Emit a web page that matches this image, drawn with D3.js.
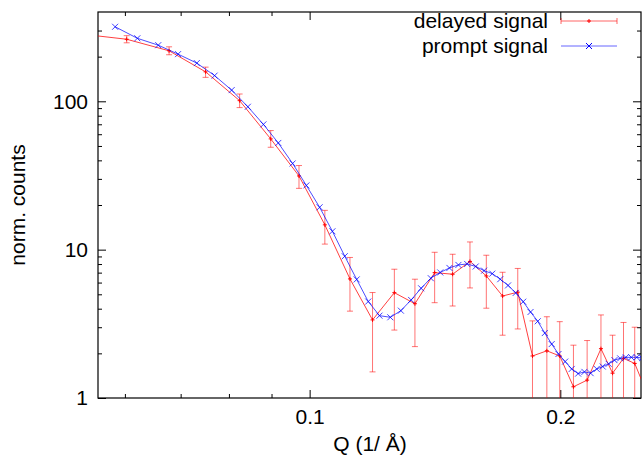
<!DOCTYPE html>
<html><head><meta charset="utf-8">
<script src="https://cdn.jsdelivr.net/npm/d3@7"></script>
<style>body{margin:0;background:#fff}svg{display:block}text{font-family:"Liberation Sans",Arial,sans-serif;fill:#000}</style>
</head><body><svg id="c" width="642" height="462"></svg>
<script>
// ---- data ----
const delayedQ = [0.0529,0.0603,0.0678,0.0750,0.0824,0.0898,0.0971,0.1043,0.1118,0.1190,0.1264,0.1338,0.1413,0.1485,0.1558,0.1630,0.1705,0.1778,0.1852,0.1927,0.1997,0.2074,0.2154,0.2238,0.2311,0.2382,0.2457,0.2531];
const delayedCounts = [285,262,219,158,101,55.8,31.4,14.7,6.35,3.36,5.13,4.32,7.0,6.83,8.33,6.65,4.87,5.17,1.92,2.08,1.92,1.19,1.32,2.15,1.47,1.85,1.71,1.14];
const delayedHigh = [300,277,233,170,112,63.5,36.9,18.4,8.86,5.14,7.38,6.32,9.6,9.31,11.27,9.17,7.04,7.47,3.31,3.53,3.27,2.27,2.44,3.63,2.65,3.23,3.0,2.6];
const delayedLow = [270,248,206,145,90.7,49.0,25.9,10.9,3.85,1.50,2.87,2.22,4.39,4.17,5.52,4.03,2.65,2.92,0.5,0.6,0.5,0.1,0.2,0.6,0.3,0.5,0.4,0.3];
const promptQ = [0.0584,0.0621,0.0658,0.0695,0.0732,0.0769,0.0806,0.0843,0.0880,0.0917,0.0954,0.0991,0.1028,0.1065,0.1102,0.1139,0.1176,0.1213,0.1250,0.1287,0.1324,0.1361,0.1398,0.1435,0.1472,0.1509,0.1546,0.1583,0.1620,0.1657,0.1694,0.1731,0.1768,0.1805,0.1842,0.1879,0.1916,0.1953,0.1990,0.2027,0.2064,0.2101,0.2138,0.2175,0.2212,0.2249,0.2286,0.2323,0.2360,0.2397,0.2434,0.2471,0.2508];
const promptCounts = [318,266,239,208,181,149,119,91.9,69.9,52.4,38.1,27.1,19.3,13.3,9.03,6.30,4.47,3.59,3.50,3.88,4.58,5.49,6.42,7.02,7.53,7.89,8.01,7.70,7.22,6.89,6.32,5.74,5.11,4.46,3.80,3.29,2.74,2.31,1.98,1.76,1.57,1.46,1.50,1.47,1.57,1.63,1.70,1.80,1.85,1.88,1.88,1.88,1.86];
const xDomain = [0.0557, 0.25];
const yDomain = [1, 400];
const xMajorTicks = [0.1, 0.2];
const xTickLabels = ["0.1", "0.2"];
const xMinorTicks = [0.06, 0.07, 0.08, 0.09];
const yMajorTicks = [1, 10, 100];
const yTickLabels = ["1", "10", "100"];
const yMinorTicks = [2,3,4,5,6,7,8,9,20,30,40,50,60,70,80,90,200,300];
const seriesNames = ["delayed signal", "prompt signal"];
const xTitle = "Q (1/ Å)";
const yTitle = "norm. counts";

// ---- layout ----
const L = 98, R = 641, T = 12, B = 398;
const FS = 21;
const RED = "#ff0000", BLUE = "#0000ff";
const svg = d3.select("#c");
const x = d3.scaleLog().domain(xDomain).range([L, R]);
const y = d3.scaleLog().domain(yDomain).range([B, T]);

svg.append("defs").append("clipPath").attr("id","clip")
  .append("rect").attr("x",L).attr("y",T).attr("width",R-L).attr("height",B-T);

function styleAxis(g){ g.select(".domain").remove(); g.selectAll("line").attr("stroke","#000").attr("stroke-width",1); }
const ff = "Liberation Sans, Arial, sans-serif";
// bottom
svg.append("g").attr("transform",`translate(0,${B})`)
  .call(d3.axisBottom(x).tickValues(xMajorTicks).tickFormat((d,i)=>xTickLabels[i]).tickSizeInner(-8).tickSizeOuter(0).tickPadding(11))
  .call(styleAxis).call(g=>g.selectAll("text").attr("font-size",FS).attr("font-family",ff));
svg.append("g").attr("transform",`translate(0,${B})`)
  .call(d3.axisBottom(x).tickValues(xMinorTicks).tickFormat("").tickSizeInner(-4).tickSizeOuter(0)).call(styleAxis);
// top
svg.append("g").attr("transform",`translate(0,${T})`)
  .call(d3.axisTop(x).tickValues(xMajorTicks).tickFormat("").tickSizeInner(-8).tickSizeOuter(0)).call(styleAxis);
svg.append("g").attr("transform",`translate(0,${T})`)
  .call(d3.axisTop(x).tickValues(xMinorTicks).tickFormat("").tickSizeInner(-4).tickSizeOuter(0)).call(styleAxis);
// left
svg.append("g").attr("transform",`translate(${L},0)`)
  .call(d3.axisLeft(y).tickValues(yMajorTicks).tickFormat((d,i)=>yTickLabels[i]).tickSizeInner(-8).tickSizeOuter(0).tickPadding(10))
  .call(styleAxis).call(g=>g.selectAll("text").attr("font-size",FS).attr("font-family",ff));
svg.append("g").attr("transform",`translate(${L},0)`)
  .call(d3.axisLeft(y).tickValues(yMinorTicks).tickFormat("").tickSizeInner(-4).tickSizeOuter(0)).call(styleAxis);
// right
svg.append("g").attr("transform",`translate(${R},0)`)
  .call(d3.axisRight(y).tickValues(yMajorTicks).tickFormat("").tickSizeInner(-8).tickSizeOuter(0)).call(styleAxis);
svg.append("g").attr("transform",`translate(${R},0)`)
  .call(d3.axisRight(y).tickValues(yMinorTicks).tickFormat("").tickSizeInner(-4).tickSizeOuter(0)).call(styleAxis);

// border
svg.append("rect").attr("x",L).attr("y",T).attr("width",R-L).attr("height",B-T)
  .attr("fill","none").attr("stroke","#000").attr("stroke-width",1.2);

// titles
svg.append("text").attr("x",370).attr("y",451).attr("text-anchor","middle").attr("font-size",FS).text(xTitle);
svg.append("text").attr("transform",`translate(25,${(T+B)/2}) rotate(-90)`).attr("text-anchor","middle").attr("font-size",FS).text(yTitle);

// data
const plot = svg.append("g").attr("clip-path","url(#clip)");
const delayed = delayedQ.map((q,i)=>({q, v:delayedCounts[i], lo:delayedLow[i], hi:delayedHigh[i]}));
const prompt = promptQ.map((q,i)=>({q, v:promptCounts[i]}));
const line = d3.line().x(d=>x(d.q)).y(d=>y(d.v));

// error bars
const eb = plot.append("g").attr("stroke",RED).attr("stroke-opacity",0.55).attr("stroke-width",1);
delayed.forEach(d=>{
  const cx = x(d.q), y1 = y(Math.max(d.lo,0.05)), y2 = y(d.hi);
  eb.append("line").attr("x1",cx).attr("x2",cx).attr("y1",y1).attr("y2",y2);
  eb.append("line").attr("x1",cx-3).attr("x2",cx+3).attr("y1",y2).attr("y2",y2);
  eb.append("line").attr("x1",cx-3).attr("x2",cx+3).attr("y1",y1).attr("y2",y1);
});
plot.append("path").datum(delayed).attr("d",line).attr("fill","none").attr("stroke",RED).attr("stroke-opacity",0.75).attr("stroke-width",1);
plot.append("g").selectAll("path").data(delayed).join("path")
  .attr("d",d=>`M${x(d.q)-2},${y(d.v)}h4M${x(d.q)},${y(d.v)-2}v4`).attr("stroke",RED).attr("stroke-width",1);

plot.append("path").datum(prompt).attr("d",line).attr("fill","none").attr("stroke",BLUE).attr("stroke-opacity",0.7).attr("stroke-width",1);
plot.append("g").selectAll("path").data(prompt).join("path")
  .attr("d",d=>{const a=x(d.q),b=y(d.v),s=3;return `M${a-s},${b-s}L${a+s},${b+s}M${a-s},${b+s}L${a+s},${b-s}`;})
  .attr("stroke",BLUE).attr("stroke-opacity",0.75).attr("stroke-width",1);

// legend
const lg = svg.append("g");
const lx1 = 561, lx2 = 617, lmid = 589;
[0,1].forEach(i=>{
  const ly = 21 + i*25;
  lg.append("text").attr("x",548).attr("y",ly+7).attr("text-anchor","end").attr("font-size",FS).text(seriesNames[i]);
  const col = i===0?RED:BLUE;
  lg.append("line").attr("x1",lx1).attr("x2",lx2).attr("y1",ly).attr("y2",ly).attr("stroke",col).attr("stroke-opacity",0.6);
  if(i===0){
    lg.append("line").attr("x1",lx1).attr("x2",lx1).attr("y1",ly-3).attr("y2",ly+3).attr("stroke",col).attr("stroke-opacity",0.6);
    lg.append("line").attr("x1",lx2).attr("x2",lx2).attr("y1",ly-3).attr("y2",ly+3).attr("stroke",col).attr("stroke-opacity",0.6);
    lg.append("path").attr("d",`M${lmid-2},${ly}h4M${lmid},${ly-2}v4`).attr("stroke",col);
  } else {
    lg.append("path").attr("d",`M${lmid-3},${ly-3}L${lmid+3},${ly+3}M${lmid-3},${ly+3}L${lmid+3},${ly-3}`).attr("stroke",col);
  }
});
</script></body></html>
